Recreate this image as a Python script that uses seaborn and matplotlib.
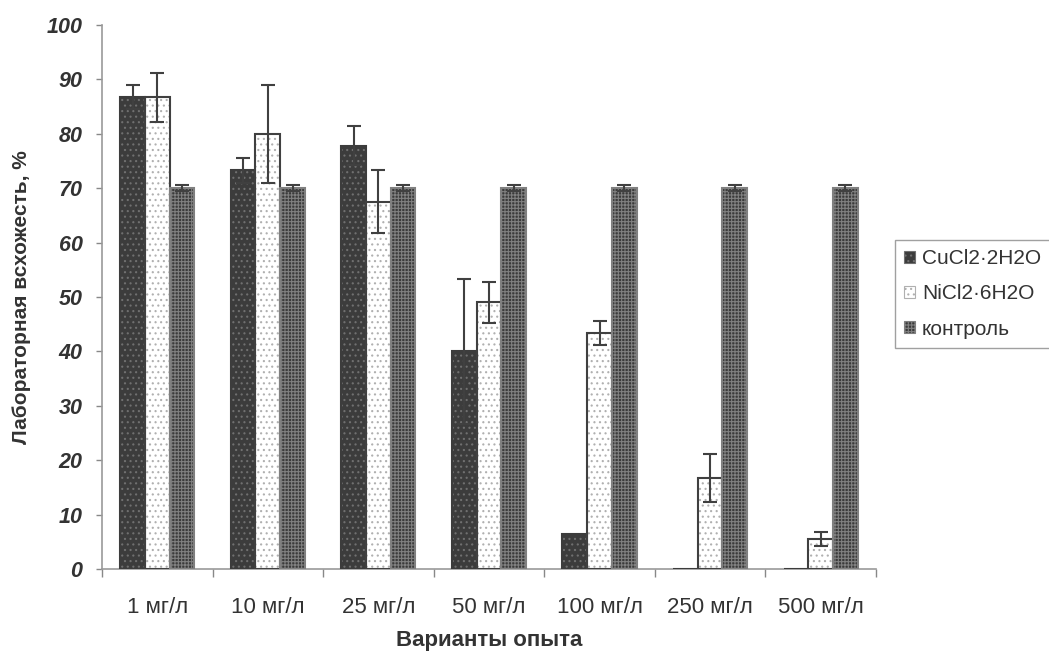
import numpy as np
import pandas as pd
import seaborn as sns
import matplotlib.pyplot as plt
from matplotlib.patches import Rectangle

doses = ["1 мг/л", "10 мг/л", "25 мг/л", "50 мг/л", "100 мг/л", "250 мг/л", "500 мг/л"]
series = ["CuCl2·2H2O", "NiCl2·6H2O", "контроль"]

cu_vals = [86.7, 73.3, 77.8, 40.0, 6.5, 0.0, 0.0]
cu_err = [2.2, 2.3, 3.6, 13.3, 0.0, 0.0, 0.0]
ni_vals = [86.7, 80.0, 67.5, 49.0, 43.3, 16.7, 5.5]
ni_err = [4.5, 9.0, 5.8, 3.8, 2.2, 4.4, 1.3]
ctrl_vals = [70.0, 70.0, 70.0, 70.0, 70.0, 70.0, 70.0]
ctrl_err = [0.5, 0.5, 0.5, 0.5, 0.5, 0.5, 0.5]

df = pd.DataFrame({
    "dose": doses * 3,
    "series": np.repeat(series, len(doses)),
    "value": cu_vals + ni_vals + ctrl_vals,
    "err": cu_err + ni_err + ctrl_err,
})

sns.set_style("white")
plt.rcParams["font.family"] = ["Liberation Sans", "DejaVu Sans"]
plt.rcParams["hatch.linewidth"] = 0.8

fig = plt.figure(figsize=(10.49, 6.53), dpi=100)
ax = fig.add_axes([0.0972, 0.1286, 0.7378, 0.8331])

sns.barplot(data=df, x="dose", y="value", hue="series", order=doses, hue_order=series,
            errorbar=None, width=0.67, ax=ax, legend=False)

styles = {
    "CuCl2·2H2O": dict(face="#3c3c3c", hatch="...", hcol="#707070", edge="#3c3c3c"),
    "NiCl2·6H2O": dict(face="#ffffff", hatch="...", hcol="#b0b0b0", edge="#404040"),
    "контроль": dict(face="#3a3a3a", hatch="+++++", hcol="#808080", edge="#808080"),
}

n = len(doses)
for i, s in enumerate(series):
    st = styles[s]
    bars = ax.patches[i * n:(i + 1) * n]
    sub = df[df["series"] == s]
    for p, v, e in zip(bars, sub["value"], sub["err"]):
        p.set_facecolor(st["face"])
        p.set_hatch(st["hatch"])
        p.set_edgecolor(st["hcol"])
        p.set_linewidth(0)
        ax.add_patch(Rectangle(p.get_xy(), p.get_width(), p.get_height(),
                               fill=False, edgecolor=st["edge"], linewidth=1.5, zorder=3))
        if e > 0:
            ax.errorbar(p.get_x() + p.get_width() / 2, v, yerr=e, color="#404040",
                        elinewidth=1.5, capsize=5, capthick=1.5, zorder=4)

ax.set_ylim(0, 100)
ax.set_xlim(-0.5, n - 0.5)
ax.set_yticks(range(0, 101, 10))
ax.set_yticklabels([str(t) for t in range(0, 101, 10)], fontsize=15.5,
                   fontweight="bold", fontstyle="italic", color="#333333")
ax.set_xticks(range(n))
ax.set_xticklabels(doses, fontsize=16, color="#333333")
ax.set_xticks(np.arange(-0.5, n, 1.0), minor=True)
ax.tick_params(axis="x", which="major", length=0, pad=20)
ax.tick_params(axis="x", which="minor", length=6, color="#888888", width=1, bottom=True)
ax.tick_params(axis="y", which="major", length=4, color="#888888", width=1, left=True, pad=10)

for sp in ["top", "right"]:
    ax.spines[sp].set_visible(False)
for sp in ["left", "bottom"]:
    ax.spines[sp].set_color("#999999")
    ax.spines[sp].set_linewidth(1.2)

ax.set_xlabel("Варианты опыта", fontsize=16, fontweight="bold", color="#333333", labelpad=9)
ax.set_ylabel("Лабораторная всхожесть, %", fontsize=15, fontweight="bold", color="#333333", labelpad=11)

handles = [Rectangle((0, 0), 1, 1, facecolor=styles[s]["face"], hatch=styles[s]["hatch"],
                     edgecolor=styles[s]["hcol"], linewidth=0.8) for s in series]
leg = fig.legend(handles, series, loc="upper left", bbox_to_anchor=(0.853, 0.633),
                 fontsize=15, frameon=True, fancybox=False, handlelength=0.5,
                 handleheight=0.5, handletextpad=0.35, labelspacing=0.78, borderpad=0.45,
                 borderaxespad=0)
leg.get_frame().set_edgecolor("#888888")
leg.get_frame().set_linewidth(1)
for t in leg.get_texts():
    t.set_color("#333333")

fig.savefig("out.png", dpi=100)
